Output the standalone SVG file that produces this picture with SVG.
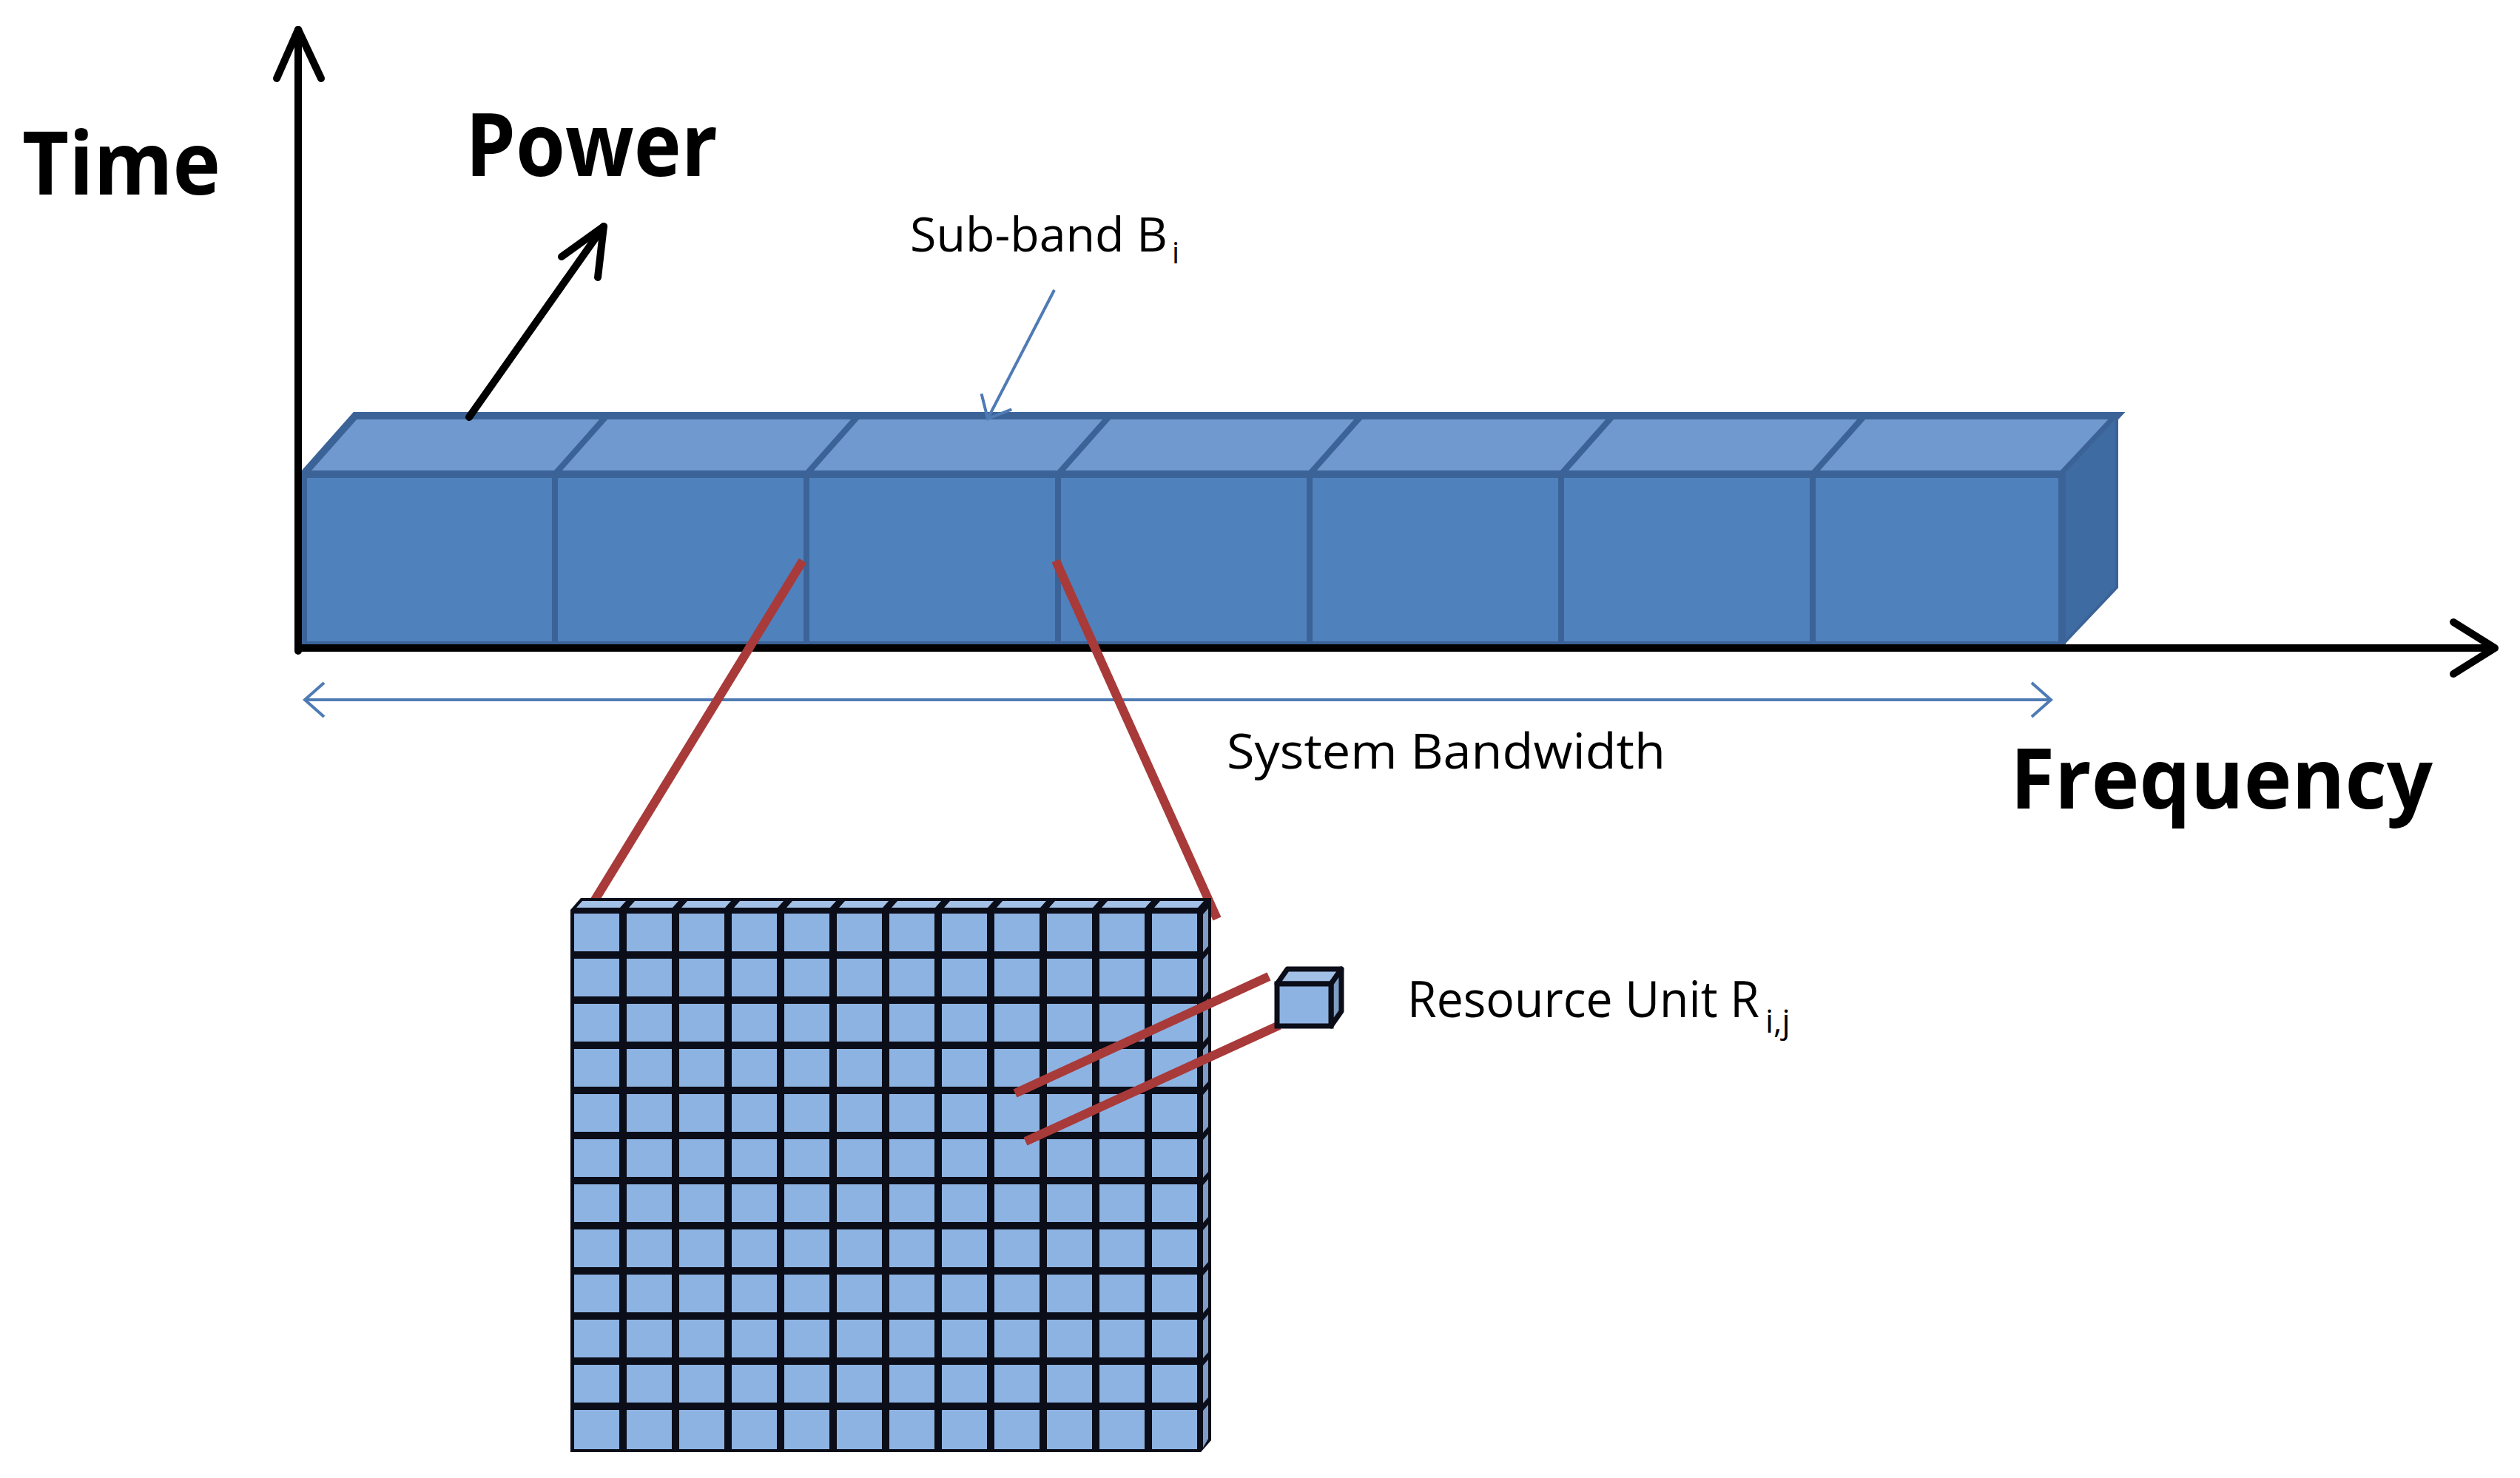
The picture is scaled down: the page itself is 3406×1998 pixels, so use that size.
<svg xmlns="http://www.w3.org/2000/svg" width="3406" height="1998" viewBox="0 0 3406 1998">
<style>
.lbl{font-family:"Open Sans","Liberation Sans",sans-serif;fill:#000}
.big{font-weight:bold}
.axis{stroke:#000;stroke-width:10;fill:none;stroke-linecap:round;stroke-linejoin:round}
.thin{stroke:#4F7BB5;stroke-width:4;fill:none}
.red{stroke:#A83A3A;stroke-width:12;stroke-linecap:butt}
.cell{fill:#8DB3E2}
.ctop{fill:#A3C0E6}
.cside{fill:#7E9CC4}
</style>
<defs>
<marker id="open" markerWidth="40" markerHeight="50" refX="30" refY="25" orient="auto-start-reverse" markerUnits="userSpaceOnUse" viewBox="0 0 40 50">
<path d="M4,2 L30,25 L4,48" fill="none" stroke="#4F7BB5" stroke-width="4"/>
</marker>
</defs>
<rect width="3406" height="1998" fill="#fff"/>

<g id="band">
<polygon points="410,641 480,562 2861,562 2787,641" fill="#7099CF" stroke="#3B6397" stroke-width="10"/>
<polygon points="2787,641 2861,562 2861,794 2787,872" fill="#3F6BA3" stroke="#3B6397" stroke-width="4"/>
<rect x="410" y="641" width="2377" height="231" fill="#4F81BD" stroke="#3B6397" stroke-width="10"/>
<g stroke="#3B6397" stroke-width="8">
<line x1="750" y1="641" x2="750" y2="872"/><line x1="750" y1="641" x2="820" y2="562"/>
<line x1="1090" y1="641" x2="1090" y2="872"/><line x1="1090" y1="641" x2="1160" y2="562"/>
<line x1="1430" y1="641" x2="1430" y2="872"/><line x1="1430" y1="641" x2="1500" y2="562"/>
<line x1="1770" y1="641" x2="1770" y2="872"/><line x1="1770" y1="641" x2="1840" y2="562"/>
<line x1="2110" y1="641" x2="2110" y2="872"/><line x1="2110" y1="641" x2="2180" y2="562"/>
<line x1="2450" y1="641" x2="2450" y2="872"/><line x1="2450" y1="641" x2="2520" y2="562"/>
</g>
</g>

<g id="axes">
<polyline class="axis" points="403,880 403,40"/>
<polyline class="axis" points="374,106 403,40 434,106"/>
<polyline class="axis" points="403,876 3370,876"/>
<polyline class="axis" points="3316,841 3372,876 3316,911"/>
<polyline class="axis" points="634,564 816,306"/>
<polyline class="axis" points="759,347 816,306 808,375"/>
</g>

<g id="labels">
<text class="lbl big" x="30" y="263" font-size="118" textLength="268" lengthAdjust="spacingAndGlyphs">Time</text>
<text class="lbl big" x="629" y="238" font-size="118" textLength="341" lengthAdjust="spacingAndGlyphs">Power</text>
<text class="lbl big" x="2717" y="1093" font-size="113" textLength="571" lengthAdjust="spacingAndGlyphs">Frequency</text>
<text class="lbl" x="1230" y="340" font-size="64" textLength="348" lengthAdjust="spacingAndGlyphs">Sub-band B</text>
<text class="lbl" x="1584" y="356" font-size="40">i</text>
<text class="lbl" x="1658" y="1039" font-size="66" textLength="593" lengthAdjust="spacingAndGlyphs">System Bandwidth</text>
<text class="lbl" x="1902" y="1375" font-size="68" textLength="476" lengthAdjust="spacingAndGlyphs">Resource Unit R</text>
<text class="lbl" x="2386" y="1396" font-size="44">i,j</text>
</g>

<g id="connectors">
<line class="thin" x1="1425" y1="392" x2="1335" y2="566" marker-end="url(#open)" stroke-width="3"/>
<line class="thin" x1="412" y1="946" x2="2772" y2="946" marker-start="url(#open)" marker-end="url(#open)"/>
<line class="red" x1="1085" y1="758" x2="778" y2="1259"/>
<line class="red" x1="1427" y1="758" x2="1645" y2="1242"/>
</g>

<g id="grid">
<polygon points="771,1230 785,1214 1637,1214 1637,1947 1623,1963 771,1963" fill="#0B0D18"/>
<g class="cell">
<rect x="776" y="1235" width="61" height="51"/><rect x="847" y="1235" width="61" height="51"/><rect x="918" y="1235" width="61" height="51"/><rect x="989" y="1235" width="61" height="51"/><rect x="1060" y="1235" width="61" height="51"/><rect x="1131" y="1235" width="61" height="51"/><rect x="1202" y="1235" width="61" height="51"/><rect x="1273" y="1235" width="61" height="51"/><rect x="1344" y="1235" width="61" height="51"/><rect x="1415" y="1235" width="61" height="51"/><rect x="1486" y="1235" width="61" height="51"/><rect x="1557" y="1235" width="61" height="51"/>
<rect x="776" y="1296" width="61" height="51"/><rect x="847" y="1296" width="61" height="51"/><rect x="918" y="1296" width="61" height="51"/><rect x="989" y="1296" width="61" height="51"/><rect x="1060" y="1296" width="61" height="51"/><rect x="1131" y="1296" width="61" height="51"/><rect x="1202" y="1296" width="61" height="51"/><rect x="1273" y="1296" width="61" height="51"/><rect x="1344" y="1296" width="61" height="51"/><rect x="1415" y="1296" width="61" height="51"/><rect x="1486" y="1296" width="61" height="51"/><rect x="1557" y="1296" width="61" height="51"/>
<rect x="776" y="1357" width="61" height="51"/><rect x="847" y="1357" width="61" height="51"/><rect x="918" y="1357" width="61" height="51"/><rect x="989" y="1357" width="61" height="51"/><rect x="1060" y="1357" width="61" height="51"/><rect x="1131" y="1357" width="61" height="51"/><rect x="1202" y="1357" width="61" height="51"/><rect x="1273" y="1357" width="61" height="51"/><rect x="1344" y="1357" width="61" height="51"/><rect x="1415" y="1357" width="61" height="51"/><rect x="1486" y="1357" width="61" height="51"/><rect x="1557" y="1357" width="61" height="51"/>
<rect x="776" y="1418" width="61" height="51"/><rect x="847" y="1418" width="61" height="51"/><rect x="918" y="1418" width="61" height="51"/><rect x="989" y="1418" width="61" height="51"/><rect x="1060" y="1418" width="61" height="51"/><rect x="1131" y="1418" width="61" height="51"/><rect x="1202" y="1418" width="61" height="51"/><rect x="1273" y="1418" width="61" height="51"/><rect x="1344" y="1418" width="61" height="51"/><rect x="1415" y="1418" width="61" height="51"/><rect x="1486" y="1418" width="61" height="51"/><rect x="1557" y="1418" width="61" height="51"/>
<rect x="776" y="1479" width="61" height="51"/><rect x="847" y="1479" width="61" height="51"/><rect x="918" y="1479" width="61" height="51"/><rect x="989" y="1479" width="61" height="51"/><rect x="1060" y="1479" width="61" height="51"/><rect x="1131" y="1479" width="61" height="51"/><rect x="1202" y="1479" width="61" height="51"/><rect x="1273" y="1479" width="61" height="51"/><rect x="1344" y="1479" width="61" height="51"/><rect x="1415" y="1479" width="61" height="51"/><rect x="1486" y="1479" width="61" height="51"/><rect x="1557" y="1479" width="61" height="51"/>
<rect x="776" y="1540" width="61" height="51"/><rect x="847" y="1540" width="61" height="51"/><rect x="918" y="1540" width="61" height="51"/><rect x="989" y="1540" width="61" height="51"/><rect x="1060" y="1540" width="61" height="51"/><rect x="1131" y="1540" width="61" height="51"/><rect x="1202" y="1540" width="61" height="51"/><rect x="1273" y="1540" width="61" height="51"/><rect x="1344" y="1540" width="61" height="51"/><rect x="1415" y="1540" width="61" height="51"/><rect x="1486" y="1540" width="61" height="51"/><rect x="1557" y="1540" width="61" height="51"/>
<rect x="776" y="1601" width="61" height="51"/><rect x="847" y="1601" width="61" height="51"/><rect x="918" y="1601" width="61" height="51"/><rect x="989" y="1601" width="61" height="51"/><rect x="1060" y="1601" width="61" height="51"/><rect x="1131" y="1601" width="61" height="51"/><rect x="1202" y="1601" width="61" height="51"/><rect x="1273" y="1601" width="61" height="51"/><rect x="1344" y="1601" width="61" height="51"/><rect x="1415" y="1601" width="61" height="51"/><rect x="1486" y="1601" width="61" height="51"/><rect x="1557" y="1601" width="61" height="51"/>
<rect x="776" y="1662" width="61" height="51"/><rect x="847" y="1662" width="61" height="51"/><rect x="918" y="1662" width="61" height="51"/><rect x="989" y="1662" width="61" height="51"/><rect x="1060" y="1662" width="61" height="51"/><rect x="1131" y="1662" width="61" height="51"/><rect x="1202" y="1662" width="61" height="51"/><rect x="1273" y="1662" width="61" height="51"/><rect x="1344" y="1662" width="61" height="51"/><rect x="1415" y="1662" width="61" height="51"/><rect x="1486" y="1662" width="61" height="51"/><rect x="1557" y="1662" width="61" height="51"/>
<rect x="776" y="1723" width="61" height="51"/><rect x="847" y="1723" width="61" height="51"/><rect x="918" y="1723" width="61" height="51"/><rect x="989" y="1723" width="61" height="51"/><rect x="1060" y="1723" width="61" height="51"/><rect x="1131" y="1723" width="61" height="51"/><rect x="1202" y="1723" width="61" height="51"/><rect x="1273" y="1723" width="61" height="51"/><rect x="1344" y="1723" width="61" height="51"/><rect x="1415" y="1723" width="61" height="51"/><rect x="1486" y="1723" width="61" height="51"/><rect x="1557" y="1723" width="61" height="51"/>
<rect x="776" y="1784" width="61" height="51"/><rect x="847" y="1784" width="61" height="51"/><rect x="918" y="1784" width="61" height="51"/><rect x="989" y="1784" width="61" height="51"/><rect x="1060" y="1784" width="61" height="51"/><rect x="1131" y="1784" width="61" height="51"/><rect x="1202" y="1784" width="61" height="51"/><rect x="1273" y="1784" width="61" height="51"/><rect x="1344" y="1784" width="61" height="51"/><rect x="1415" y="1784" width="61" height="51"/><rect x="1486" y="1784" width="61" height="51"/><rect x="1557" y="1784" width="61" height="51"/>
<rect x="776" y="1845" width="61" height="51"/><rect x="847" y="1845" width="61" height="51"/><rect x="918" y="1845" width="61" height="51"/><rect x="989" y="1845" width="61" height="51"/><rect x="1060" y="1845" width="61" height="51"/><rect x="1131" y="1845" width="61" height="51"/><rect x="1202" y="1845" width="61" height="51"/><rect x="1273" y="1845" width="61" height="51"/><rect x="1344" y="1845" width="61" height="51"/><rect x="1415" y="1845" width="61" height="51"/><rect x="1486" y="1845" width="61" height="51"/><rect x="1557" y="1845" width="61" height="51"/>
<rect x="776" y="1906" width="61" height="53"/><rect x="847" y="1906" width="61" height="53"/><rect x="918" y="1906" width="61" height="53"/><rect x="989" y="1906" width="61" height="53"/><rect x="1060" y="1906" width="61" height="53"/><rect x="1131" y="1906" width="61" height="53"/><rect x="1202" y="1906" width="61" height="53"/><rect x="1273" y="1906" width="61" height="53"/><rect x="1344" y="1906" width="61" height="53"/><rect x="1415" y="1906" width="61" height="53"/><rect x="1486" y="1906" width="61" height="53"/><rect x="1557" y="1906" width="61" height="53"/>
</g>
<g class="ctop">
<polygon points="779,1227 787,1218 846,1218 838,1227"/><polygon points="850,1227 858,1218 917,1218 909,1227"/><polygon points="921,1227 929,1218 988,1218 980,1227"/><polygon points="992,1227 1000,1218 1059,1218 1051,1227"/><polygon points="1063,1227 1071,1218 1130,1218 1122,1227"/><polygon points="1134,1227 1142,1218 1201,1218 1193,1227"/><polygon points="1205,1227 1213,1218 1272,1218 1264,1227"/><polygon points="1276,1227 1284,1218 1343,1218 1335,1227"/><polygon points="1347,1227 1355,1218 1414,1218 1406,1227"/><polygon points="1418,1227 1426,1218 1485,1218 1477,1227"/><polygon points="1489,1227 1497,1218 1556,1218 1548,1227"/><polygon points="1560,1227 1568,1218 1627,1218 1619,1227"/>
</g>
<g class="cside">
<polygon points="1626,1236 1633,1228 1633,1279 1626,1287"/><polygon points="1626,1297 1633,1289 1633,1340 1626,1348"/><polygon points="1626,1358 1633,1350 1633,1401 1626,1409"/><polygon points="1626,1419 1633,1411 1633,1462 1626,1470"/><polygon points="1626,1480 1633,1472 1633,1523 1626,1531"/><polygon points="1626,1541 1633,1533 1633,1584 1626,1592"/><polygon points="1626,1602 1633,1594 1633,1645 1626,1653"/><polygon points="1626,1663 1633,1655 1633,1706 1626,1714"/><polygon points="1626,1724 1633,1716 1633,1767 1626,1775"/><polygon points="1626,1785 1633,1777 1633,1828 1626,1836"/><polygon points="1626,1846 1633,1838 1633,1889 1626,1897"/><polygon points="1626,1907 1633,1899 1633,1945 1626,1957"/>
</g>
</g>

<g id="zoomlines">
<line class="red" x1="1715" y1="1320" x2="1372" y2="1478"/>
<line class="red" x1="1729" y1="1386" x2="1386" y2="1543"/>
</g>

<g id="resource-unit">
<polygon points="1726,1330 1740,1310 1813,1310 1799,1330" class="ctop" stroke="#0B0D18" stroke-width="7" stroke-linejoin="round"/>
<polygon points="1799,1330 1813,1310 1813,1367 1799,1387" class="cside" stroke="#0B0D18" stroke-width="7" stroke-linejoin="round"/>
<rect x="1726" y="1330" width="73" height="57" class="cell" stroke="#0B0D18" stroke-width="7"/>
</g>
</svg>
